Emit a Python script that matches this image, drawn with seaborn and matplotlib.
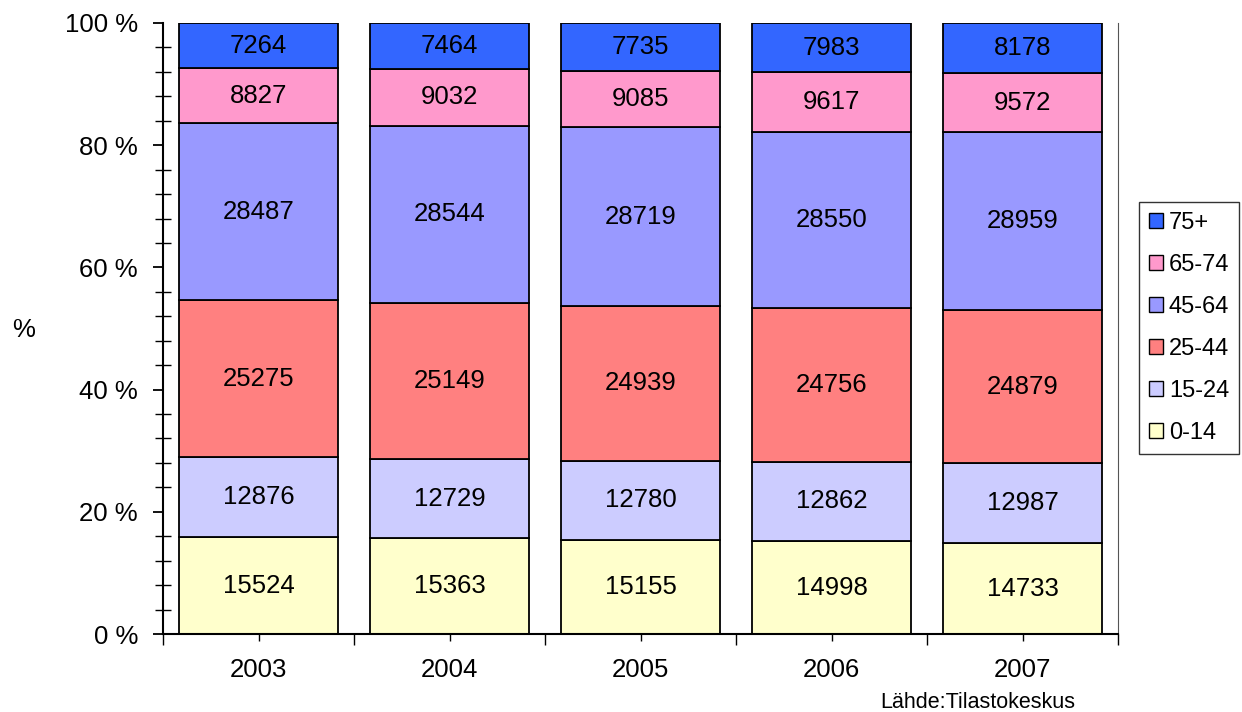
import numpy as np
import pandas as pd
import matplotlib
matplotlib.use("Agg")
import matplotlib.pyplot as plt
import seaborn as sns
from matplotlib.patches import Patch

# data (population by age group)
years = ["2003", "2004", "2005", "2006", "2007"]
groups = ["0-14", "15-24", "25-44", "45-64", "65-74", "75+"]
age_0_14 = [15524, 15363, 15155, 14998, 14733]
age_15_24 = [12876, 12729, 12780, 12862, 12987]
age_25_44 = [25275, 25149, 24939, 24756, 24879]
age_45_64 = [28487, 28544, 28719, 28550, 28959]
age_65_74 = [8827, 9032, 9085, 9617, 9572]
age_75_plus = [7264, 7464, 7735, 7983, 8178]
colors = ["#FFFFCC", "#CCCCFF", "#FF8080", "#9999FF", "#FF99CC", "#3366FF"]

df = pd.DataFrame(
    [age_0_14, age_15_24, age_25_44, age_45_64, age_65_74, age_75_plus],
    index=groups, columns=years,
)
share = df / df.sum(axis=0)

sns.set_style("white")
plt.rcParams["font.family"] = ["Liberation Sans", "DejaVu Sans"]
plt.rcParams["text.color"] = "black"
plt.rcParams["xtick.color"] = "black"
plt.rcParams["ytick.color"] = "black"
plt.rcParams["xtick.labelcolor"] = "black"
plt.rcParams["ytick.labelcolor"] = "black"
palette = sns.color_palette(colors)
fs = 18.5

fig = plt.figure(figsize=(12.42, 7.12), dpi=100)
ax = fig.add_axes([163 / 1242, 1 - 634 / 712, (1118 - 163) / 1242, (634 - 23) / 712])

x = np.arange(len(years))
bottom = np.zeros(len(years))
for i, grp in enumerate(groups):
    vals = share.loc[grp].values
    ax.bar(x, vals, bottom=bottom, width=0.83, color=palette[i],
           edgecolor="black", linewidth=1.3, zorder=2)
    for xi, b, v, n in zip(x, bottom, vals, df.loc[grp].values):
        ax.text(xi, b + v / 2, str(n), ha="center", va="center",
                fontsize=fs, color="black", zorder=3)
    bottom += vals

ax.set_xlim(-0.5, len(years) - 0.5)
ax.set_ylim(0, 1)

# y axis
ax.set_yticks(np.arange(0, 1.01, 0.2))
ax.set_yticklabels([f"{int(round(v * 100))} %" for v in np.arange(0, 1.01, 0.2)])
ax.set_yticks(np.arange(0, 1.001, 0.04), minor=True)
ax.tick_params(axis="y", which="major", direction="out", length=7, width=1.3,
               labelsize=fs, pad=11, left=True)
ax.tick_params(axis="y", which="minor", direction="inout", length=11, width=1.0, left=True)

# x axis: boundary ticks out, labels at centres with small ticks
ax.set_xticks(np.arange(-0.5, len(years), 1.0))
ax.set_xticklabels([""] * (len(years) + 1))
ax.set_xticks(x, minor=True)
ax.set_xticklabels(years, minor=True)
ax.tick_params(axis="x", which="major", direction="out", length=8, width=1.0, bottom=True)
ax.tick_params(axis="x", which="minor", direction="inout", length=10, width=1.0,
               labelsize=fs, pad=12, bottom=True)

ax.spines["top"].set_visible(False)
ax.spines["left"].set_color("black")
ax.spines["left"].set_linewidth(1.5)
ax.spines["bottom"].set_color("black")
ax.spines["bottom"].set_linewidth(1.5)
ax.spines["right"].set_color("#555555")
ax.spines["right"].set_linewidth(0.8)

fig.text(12 / 1242, 1 - 330 / 712, "%", fontsize=fs, ha="left", va="center")

handles = [Patch(facecolor=palette[i], edgecolor="black", linewidth=1.0)
           for i in range(len(groups))][::-1]
leg = fig.legend(handles, groups[::-1], loc="upper left",
                 bbox_to_anchor=(1139 / 1242, 1 - 202 / 712),
                 fontsize=17, frameon=True, fancybox=False,
                 handlelength=0.6, handleheight=0.6, handletextpad=0.25,
                 labelspacing=0.85, borderpad=0.42, borderaxespad=0)
leg.get_frame().set_edgecolor("black")
leg.get_frame().set_linewidth(1.0)

fig.text(880 / 1242, 1 - 703 / 712, "Lähde:Tilastokeskus", fontsize=15.5,
         ha="left", va="center")

fig.savefig("out.png", dpi=100)
